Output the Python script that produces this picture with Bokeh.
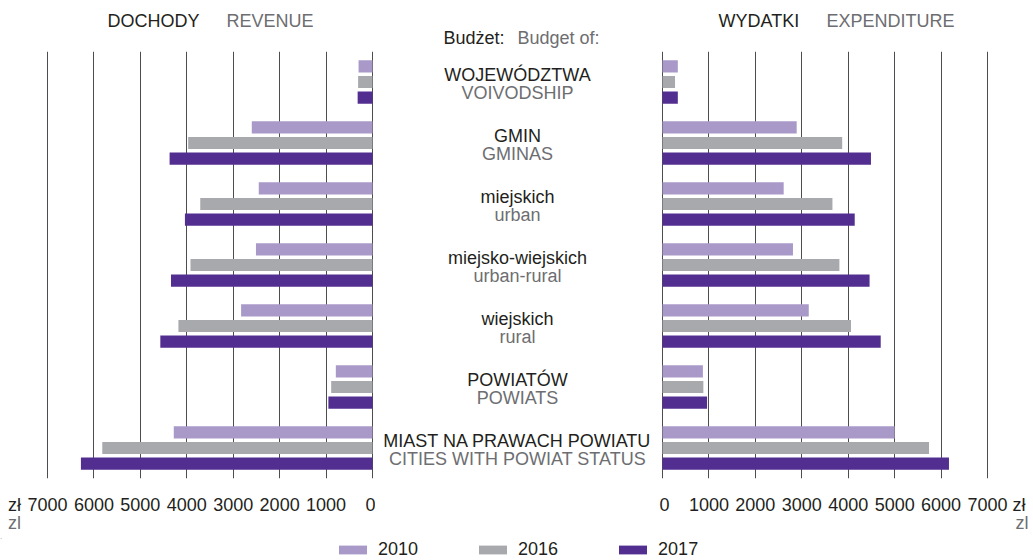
from bokeh.plotting import figure
from bokeh.models import (Range1d, FixedTicker, Legend, LegendItem, ColumnDataSource,
                          LinearAxis)
from bokeh.layouts import row, column
from bokeh.embed import file_html
from bokeh.resources import INLINE
from bokeh.core.properties import value

# ---------------- data ----------------
categories_pl = ["WOJEWÓDZTWA", "GMIN", "miejskich", "miejsko-wiejskich",
                 "wiejskich", "POWIATÓW", "MIAST NA PRAWACH POWIATU"]
categories_en = ["VOIVODSHIP", "GMINAS", "urban", "urban-rural",
                 "rural", "POWIATS", "CITIES WITH POWIAT STATUS"]
years = ["2010", "2016", "2017"]

revenue_2010 = [300, 2600, 2450, 2510, 2830, 790, 4280]
revenue_2016 = [310, 3970, 3710, 3920, 4180, 890, 5820]
revenue_2017 = [320, 4370, 4040, 4340, 4570, 950, 6280]

expenditure_2010 = [330, 2890, 2610, 2810, 3150, 870, 5000]
expenditure_2016 = [270, 3870, 3660, 3810, 4060, 880, 5740]
expenditure_2017 = [330, 4490, 4140, 4460, 4700, 960, 6170]

tick_values = [0, 1000, 2000, 3000, 4000, 5000, 6000, 7000]
tick_labels = ["0", "1000", "2000", "3000", "4000", "5000", "6000", "7000"]

header_pl = ["DOCHODY", "Budżet:", "WYDATKI"]
header_en = ["REVENUE", "Budget of:", "EXPENDITURE"]
unit_pl = "zł"
unit_en = "zl"

# ---------------- style / layout ----------------
FONT = "Liberation Sans"
DARK = "#231f20"
GRAY = "#6d6e71"
GRID = "#4d4d4f"
COLORS = ["#a899c8", "#a7a9ac", "#532e91"]
OFFSETS = [-0.256, 0.0, 0.256]
BAR_H = 0.2
FS = "18px"

W, HTOT = 1033, 560
PX = 46.43 / 1000.0          # pixels per zloty
ZERO_L, ZERO_R = 372, 662    # page x of the zero lines
HEAD_H = 51                  # header strip
FRAME_H = 427
BOTTOM = 60
HR = FRAME_H + BOTTOM        # row height
LEG_H = HTOT - HEAD_H - HR   # legend strip

L_END = 375                  # left panel: page 0 .. 375
R_START = 659                # right panel: page 659 .. 1033

n = len(categories_pl)
y_idx = list(range(n))


def strip_fig(width, height):
    p = figure(width=width, height=height, x_range=Range1d(0, width),
               y_range=Range1d(height, 0), output_backend="svg",
               toolbar_location=None, x_axis_location=None, y_axis_location=None,
               min_border_left=0, min_border_right=0, min_border_top=0,
               min_border_bottom=0)
    p.outline_line_color = None
    p.background_fill_color = None
    p.border_fill_color = None
    p.grid.grid_line_color = None
    return p


def txt(p, x, y, t, color, align="left", size=FS):
    p.text(x=[x], y=[y], text=[t], text_align=align, text_baseline="middle",
           text_font=value(FONT), text_font_size=size, text_color=color)


def style_axis(ax, color, standoff):
    ax.axis_line_color = None
    ax.major_tick_line_color = None
    ax.minor_tick_line_color = None
    ax.major_tick_out = 0
    ax.major_tick_in = 0
    ax.major_label_standoff = standoff
    ax.major_label_text_font = FONT
    ax.major_label_text_font_size = FS
    ax.major_label_text_color = color


def panel_fig(width, x_range, unit_ticks=None):
    axis = unit_ticks is not None
    p = figure(width=width, height=HR, x_range=x_range,
               y_range=Range1d(n - 0.5, -0.5),
               output_backend="svg", toolbar_location=None,
               x_axis_location="below" if axis else None,
               y_axis_location=None,
               min_border_left=0, min_border_right=0,
               min_border_top=0, min_border_bottom=BOTTOM)
    p.outline_line_color = None
    p.background_fill_color = None
    p.border_fill_color = None
    p.ygrid.grid_line_color = None
    if axis:
        t_pl, t_en = unit_ticks
        ax = p.xaxis[0]
        ax.ticker = FixedTicker(ticks=tick_values + [t_pl])
        ov = dict(zip(tick_values, tick_labels))
        ov[t_pl] = unit_pl
        ax.major_label_overrides = ov
        style_axis(ax, DARK, 16)
        ax2 = LinearAxis(ticker=FixedTicker(ticks=[t_en]),
                         major_label_overrides={t_en: unit_en})
        style_axis(ax2, GRAY, -5)
        p.add_layout(ax2, "below")
        p.xgrid.ticker = FixedTicker(ticks=tick_values)
        p.xgrid.grid_line_color = GRID
        p.xgrid.grid_line_width = 1
    else:
        p.xgrid.grid_line_color = None
    return p


def add_bars(p, series):
    for vals, off, col in zip(series, OFFSETS, COLORS):
        src = ColumnDataSource(dict(y=[i + off for i in y_idx], v=vals))
        p.hbar(y="y", left=0, right="v", height=BAR_H, source=src,
               fill_color=col, line_color=None)


# ---------------- header strip ----------------
head = strip_fig(W, HEAD_H)
txt(head, 107, 20, header_pl[0], DARK)
txt(head, 226, 20, header_en[0], GRAY)
txt(head, 443, 37, header_pl[1], DARK)
txt(head, 517, 37, header_en[1], GRAY)
txt(head, 718, 20, header_pl[2], DARK)
txt(head, 826, 20, header_en[2], GRAY)

# ---------------- left: revenue ----------------
unit_l = (int(round((ZERO_L - 14) / PX)), int(round((ZERO_L - 14) / PX)))
left = panel_fig(L_END, Range1d(ZERO_L / PX, (ZERO_L - L_END) / PX), unit_l)
add_bars(left, [revenue_2010, revenue_2016, revenue_2017])

# ---------------- middle: category labels ----------------
mid = panel_fig(R_START - L_END, Range1d(0, 1))
src = ColumnDataSource(dict(y=y_idx, pl=categories_pl, en=categories_en))
mid.text(x=0.5, y="y", text="pl", source=src, text_align="center",
         text_baseline="middle", text_font=value(FONT), text_font_size=FS,
         text_color=DARK, y_offset=-7.5)
mid.text(x=0.5, y="y", text="en", source=src, text_align="center",
         text_baseline="middle", text_font=value(FONT), text_font_size=FS,
         text_color=GRAY, y_offset=10.5)

# ---------------- right: expenditure ----------------
unit_r = (int(round((1018.5 - ZERO_R) / PX)), int(round((1021.5 - ZERO_R) / PX)))
right = panel_fig(W - R_START,
                  Range1d((R_START - ZERO_R) / PX, (W - ZERO_R) / PX), unit_r)
add_bars(right, [expenditure_2010, expenditure_2016, expenditure_2017])

# ---------------- legend strip ----------------
leg = strip_fig(W, LEG_H)
items = []
for yr, col in zip(years, COLORS):
    # legend swatch renderer, kept outside the visible range
    r = leg.hbar(y=[-100], left=[0], right=[1], height=1,
                 fill_color=col, line_color=None)
    items.append(LegendItem(label=yr, renderers=[r]))
legend = Legend(items=items, orientation="horizontal", location=(335, 0),
                glyph_width=35, glyph_height=11, label_standoff=8, spacing=57,
                padding=0, margin=0, border_line_color=None,
                background_fill_alpha=0,
                label_text_font=FONT, label_text_font_size=FS,
                label_text_color=DARK)
leg.add_layout(legend)

layout = column(head,
                row(left, mid, right, spacing=0),
                leg, spacing=0)
open("out.html", "w").write(file_html(layout, INLINE))
